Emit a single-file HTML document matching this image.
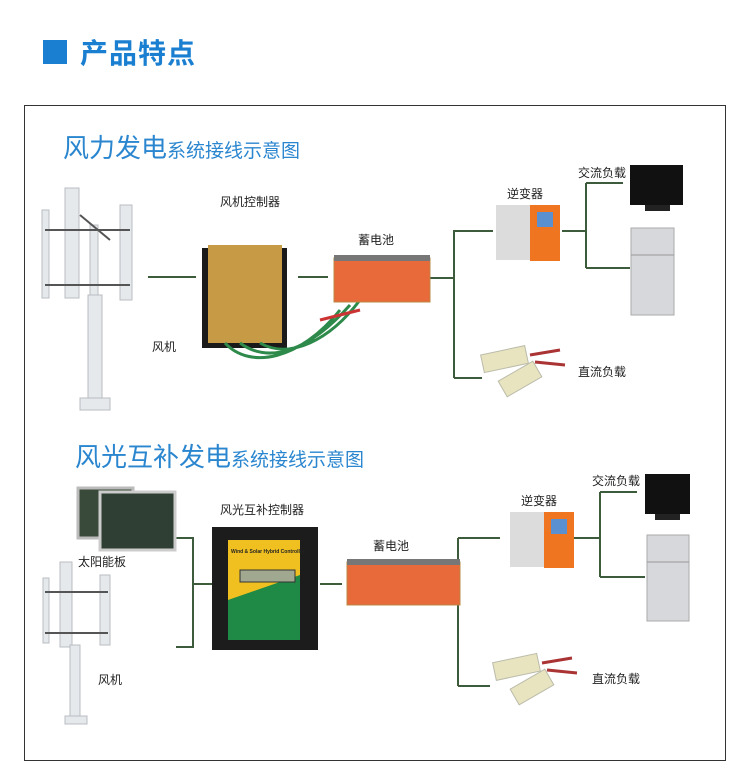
<!DOCTYPE html>
<html><head><meta charset="utf-8"><style>
body{margin:0;width:750px;height:782px;background:#fff;position:relative;overflow:hidden;font-family:"Liberation Sans","Noto Sans CJK SC",sans-serif}
.a{position:absolute}
.lb{position:absolute;font-size:12px;color:#222;white-space:nowrap}
</style></head><body>
<div class="a" style="left:43px;top:40px;width:24px;height:24px;background:#1a7fd0"></div>
<div class="a" style="left:80px;top:32px;font-size:28px;color:#1a7fd0;font-weight:bold;letter-spacing:1px">产品特点</div>
<div class="a" style="left:24px;top:105px;width:700px;height:654px;border:1px solid #333"></div>

<div class="a" style="left:63px;top:128px;color:#2a86cf;white-space:nowrap"><span style="font-size:26px">风力发电</span><span style="font-size:19px">系统接线示意图</span></div>
<div class="a" style="left:75px;top:437px;color:#2a86cf;white-space:nowrap"><span style="font-size:26px">风光互补发电</span><span style="font-size:19px">系统接线示意图</span></div>

<svg class="a" style="left:0;top:0" width="750" height="782">
<g stroke="#3c5c3c" stroke-width="2" fill="none">
<path d="M148 277H196M298 277H328M430 278H454M454 230V378M454 231H493M454 378H482M562 231H586M586 183V268M586 183H623M586 268H630"/>
<path d="M176 538H193V647H176M193 584H212M320 584H342M440 586H458M458 538V686M458 538H500M458 686H490M572 538H600V577M600 492H637M600 577H645M600 492V577"/>
</g>
<!-- turbine 1 -->
<g fill="#e6e9ec" stroke="#b8bcc0">
<rect x="65" y="188" width="14" height="110"/><rect x="42" y="210" width="7" height="88"/><rect x="120" y="205" width="12" height="95"/><rect x="90" y="225" width="8" height="75"/>
<rect x="88" y="295" width="14" height="110"/><rect x="80" y="398" width="30" height="12"/>
</g>
<g stroke="#555" stroke-width="2"><path d="M45 230H130M45 285H130M80 215L110 240"/></g>
<!-- controller 1 -->
<rect x="202" y="248" width="85" height="100" fill="#1a1a1a"/>
<rect x="208" y="245" width="74" height="98" fill="#c79a45"/>
<g stroke="#2e8a4a" stroke-width="3" fill="none"><path d="M225 343C250 370 300 360 340 310M240 343C270 365 310 350 350 305M260 343C290 360 330 340 360 300"/></g>
<g stroke="#c33" stroke-width="3"><path d="M320 320L360 310"/></g>
<!-- battery 1 -->
<rect x="334" y="258" width="96" height="44" fill="#e8693a" stroke="#b84"/>
<rect x="334" y="255" width="96" height="6" fill="#777"/>
<!-- inverter 1 -->
<rect x="496" y="205" width="35" height="55" fill="#dcdcdc"/><rect x="530" y="205" width="30" height="56" fill="#ef7520"/><rect x="537" y="212" width="16" height="15" fill="#5a8fd0"/>
<!-- TV 1 -->
<rect x="630" y="165" width="53" height="40" fill="#111"/><rect x="645" y="205" width="25" height="6" fill="#222"/>
<!-- fridge 1 -->
<rect x="631" y="228" width="43" height="87" fill="#d6d8dc" stroke="#aaa"/><path d="M631 255H674" stroke="#999"/>
<!-- DC load 1 -->
<g fill="#e8e4c0" stroke="#bba"><rect x="482" y="350" width="45" height="18" transform="rotate(-12 505 359)"/><rect x="500" y="370" width="40" height="18" transform="rotate(-30 520 379)"/></g>
<path d="M530 355L560 350M535 362L565 365" stroke="#a33" stroke-width="3"/>

<!-- solar -->
<rect x="78" y="488" width="55" height="50" fill="#3a4a3a" stroke="#bbb" stroke-width="3"/>
<rect x="100" y="492" width="75" height="58" fill="#2f3f33" stroke="#ccc" stroke-width="3"/>
<!-- turbine 2 -->
<g fill="#e6e9ec" stroke="#b8bcc0">
<rect x="60" y="562" width="12" height="85"/><rect x="43" y="578" width="6" height="65"/><rect x="100" y="575" width="10" height="70"/>
<rect x="70" y="645" width="10" height="75"/><rect x="65" y="716" width="22" height="8"/>
</g>
<g stroke="#555" stroke-width="2"><path d="M45 592H108M45 633H108"/></g>
<!-- controller 2 -->
<rect x="212" y="527" width="106" height="123" fill="#1c1c1c"/>
<path d="M228 540H300V620L228 640Z" fill="#f0c020"/>
<path d="M228 600L300 575V640H228Z" fill="#1e8a45"/>
<rect x="240" y="570" width="55" height="12" fill="#a0a890" stroke="#333"/>
<text x="231" y="553" font-size="5" font-weight="bold" fill="#222">Wind &amp; Solar Hybrid Controller</text>
<!-- battery 2 -->
<rect x="347" y="562" width="113" height="43" fill="#e8693a" stroke="#b84"/>
<rect x="347" y="559" width="113" height="6" fill="#777"/>
<!-- inverter 2 -->
<rect x="510" y="512" width="35" height="55" fill="#dcdcdc"/><rect x="544" y="512" width="30" height="56" fill="#ef7520"/><rect x="551" y="519" width="16" height="15" fill="#5a8fd0"/>
<rect x="645" y="474" width="45" height="40" fill="#111"/><rect x="655" y="514" width="25" height="6" fill="#222"/>
<rect x="647" y="535" width="42" height="86" fill="#d6d8dc" stroke="#aaa"/><path d="M647 562H689" stroke="#999"/>
<g fill="#e8e4c0" stroke="#bba"><rect x="494" y="658" width="45" height="18" transform="rotate(-12 516 667)"/><rect x="512" y="678" width="40" height="18" transform="rotate(-30 532 687)"/></g>
<path d="M542 663L572 658M547 670L577 673" stroke="#a33" stroke-width="3"/>
</svg>

<div class="lb" style="left:220px;top:193px">风机控制器</div>
<div class="lb" style="left:358px;top:231px">蓄电池</div>
<div class="lb" style="left:152px;top:338px">风机</div>
<div class="lb" style="left:507px;top:185px">逆变器</div>
<div class="lb" style="left:578px;top:164px">交流负载</div>
<div class="lb" style="left:578px;top:363px">直流负载</div>
<div class="lb" style="left:220px;top:501px">风光互补控制器</div>
<div class="lb" style="left:373px;top:537px">蓄电池</div>
<div class="lb" style="left:78px;top:553px">太阳能板</div>
<div class="lb" style="left:98px;top:671px">风机</div>
<div class="lb" style="left:521px;top:492px">逆变器</div>
<div class="lb" style="left:592px;top:472px">交流负载</div>
<div class="lb" style="left:592px;top:670px">直流负载</div>
</body></html>
